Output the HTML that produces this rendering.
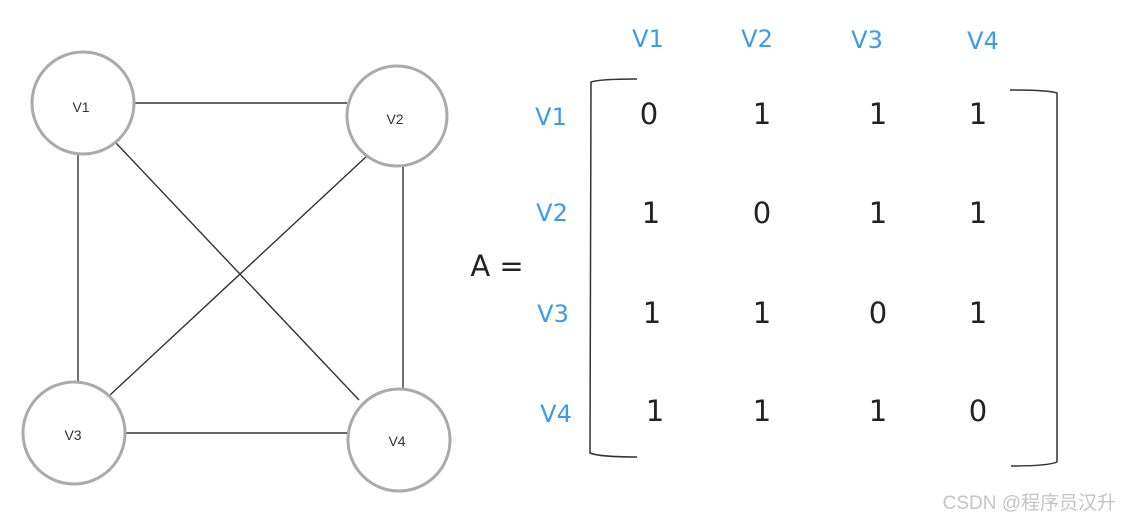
<!DOCTYPE html>
<html><head><meta charset="utf-8"><style>
html,body{margin:0;padding:0;background:#fff;}
svg{display:block;}
</style></head><body>
<svg width="1121" height="522" xmlns="http://www.w3.org/2000/svg">
<g stroke="#333" stroke-width="1.4" fill="none">
<line x1="133" y1="103" x2="347" y2="103"/>
<line x1="78" y1="155" x2="78" y2="383"/>
<line x1="403" y1="165" x2="403" y2="388"/>
<line x1="125" y1="433" x2="349" y2="433"/>
<line x1="116" y1="143" x2="359" y2="400"/>
<line x1="368" y1="155" x2="110" y2="395"/>
</g>
<g stroke="#aaa" stroke-width="3" fill="#fff">
<circle cx="83" cy="103" r="51"/>
<circle cx="397" cy="116" r="50"/>
<circle cx="74" cy="433" r="51"/>
<circle cx="399" cy="440" r="51"/>
</g>
<g font-family="Liberation Sans, sans-serif" font-size="14" fill="#333" text-anchor="middle">
<text x="81" y="112">V1</text>
<text x="395" y="124">V2</text>
<text x="73" y="440">V3</text>
<text x="397" y="446">V4</text>
</g>
<g font-family="DejaVu Sans, sans-serif" font-size="24" fill="#3d9be9" text-anchor="middle">
<text x="648" y="47">V1</text>
<text x="757" y="47">V2</text>
<text x="867" y="48">V3</text>
<text x="983" y="49">V4</text>
<text x="551" y="125">V1</text>
<text x="552" y="221">V2</text>
<text x="553" y="322">V3</text>
<text x="556" y="422">V4</text>
</g>
<g font-family="'DejaVu Sans ExtraLight', 'DejaVu Sans', sans-serif" font-size="29" fill="#222" text-anchor="middle">
<text x="497" y="276">A =</text>
<text x="649" y="124">0</text><text x="762" y="124">1</text><text x="878" y="124">1</text><text x="978" y="124">1</text>
<text x="651" y="223">1</text><text x="762" y="223">0</text><text x="878" y="223">1</text><text x="978" y="223">1</text>
<text x="652" y="323">1</text><text x="762" y="323">1</text><text x="878" y="323">0</text><text x="978" y="323">1</text>
<text x="655" y="421">1</text><text x="762" y="421">1</text><text x="878" y="421">1</text><text x="978" y="421">0</text>
</g>
<g stroke="#333" stroke-width="1.5" fill="none">
<path d="M637 79 Q600 79 591 82 L590 453 Q600 457 637 457"/>
<path d="M1010 90 Q1048 90 1057 93 L1057 462 Q1048 466 1011 466"/>
</g>
<text x="1116" y="509" font-family="Liberation Sans, 'Noto Sans CJK SC', sans-serif" font-size="19" fill="#c4c4c4" text-anchor="end">CSDN @程序员汉升</text>
</svg>
</body></html>
